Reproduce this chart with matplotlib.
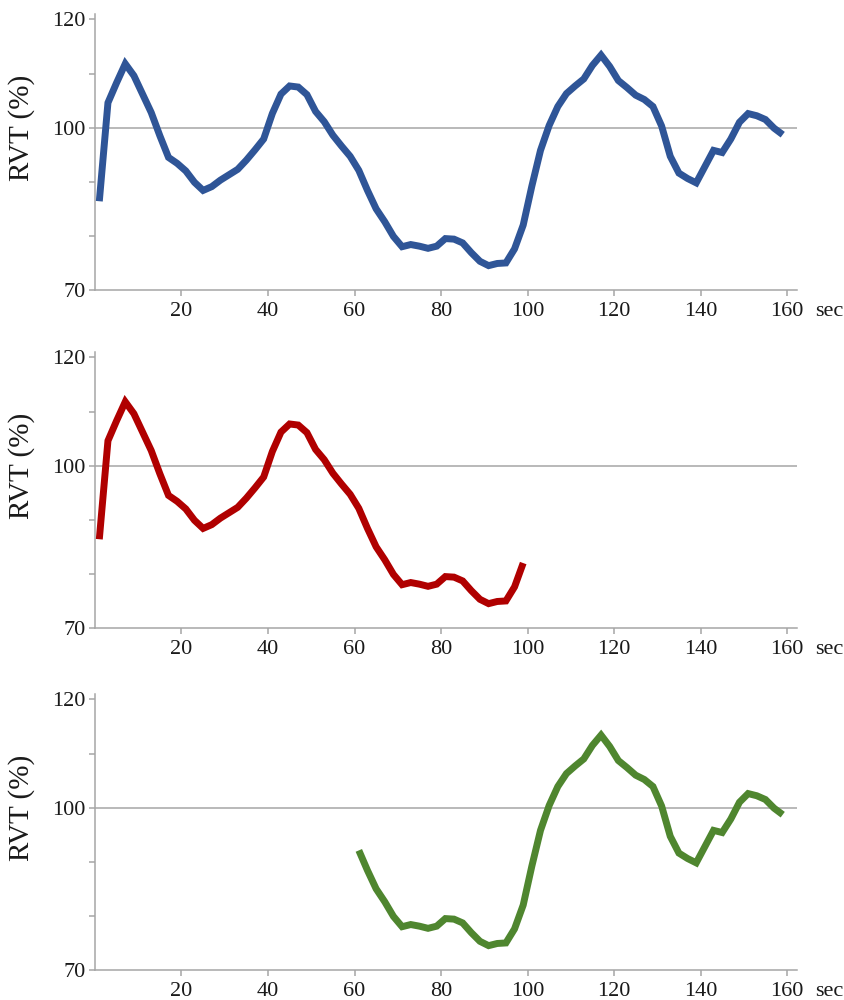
import numpy as np
import matplotlib
matplotlib.use("Agg")
import matplotlib.pyplot as plt
import matplotlib.transforms as mtransforms

# time (sec) and RVT (%), one sample every 2 sec
time_sec = np.arange(1, 160, 2)
rvt = [
    86.4, 104.6, 108.3, 111.8, 109.6, 106.2, 102.8, 98.5, 94.5, 93.4,
    92.0, 89.9, 88.4, 89.1, 90.3, 91.3, 92.3, 94.0, 95.9, 97.9,
    102.6, 106.2, 107.7, 107.5, 106.1, 103.0, 101.1, 98.6, 96.6, 94.7,
    92.1, 88.4, 85.0, 82.6, 79.9, 78.0, 78.4, 78.1, 77.7, 78.1,
    79.5, 79.4, 78.7, 76.9, 75.3, 74.5, 74.9, 75.0, 77.6, 82.0,
    89.2, 95.8, 100.4, 103.9, 106.3, 107.7, 109.0, 111.5, 113.4, 111.3,
    108.7, 107.4, 106.0, 105.2, 103.9, 100.3, 94.7, 91.6, 90.6, 89.8,
    92.8, 95.8, 95.4, 97.9, 101.0, 102.6, 102.2, 101.5, 99.9, 98.7,
]

# which part of the recording each panel shows (sec)
panel_ranges = [(0, 160), (0, 99), (61, 160)]
panel_colors = ["#2F5597", "#B00000", "#4F862F"]

x_ticks = [20, 40, 60, 80, 100, 120, 140, 160]
y_ticks = [70, 80, 90, 100, 110, 120]
y_tick_labels = ["70", "", "", "100", "", "120"]

plt.rcParams["font.family"] = ["Liberation Serif", "DejaVu Serif"]
axis_grey = "#A6A6A6"
text_col = "#1a1a1a"

fig = plt.figure(figsize=(8.45, 10), dpi=100)
bottoms = [0.710, 0.372, 0.030]

t = np.array(time_sec)
v = np.array(rvt)

for bottom, (t0, t1), color in zip(bottoms, panel_ranges, panel_colors):
    ax = fig.add_axes([0.1124, bottom, 0.8308, 0.276])
    mask = (t >= t0) & (t <= t1)
    ax.axhline(100, color=axis_grey, lw=1.1, zorder=1)
    ax.plot(t[mask], v[mask], color=color, lw=5, zorder=3,
            solid_joinstyle="miter", solid_capstyle="butt")

    ax.set_xlim(0, 162.3)
    ax.set_ylim(70, 121)
    ax.set_xticks(x_ticks)
    ax.set_yticks(y_ticks)
    ax.set_yticklabels(y_tick_labels)

    for side in ["top", "right"]:
        ax.spines[side].set_visible(False)
    for side in ["left", "bottom"]:
        ax.spines[side].set_color(axis_grey)
        ax.spines[side].set_linewidth(1.1)
    ax.tick_params(axis="both", direction="out", length=4, width=1.1,
                   color=axis_grey, labelsize=16, labelcolor=text_col)
    ax.tick_params(axis="x", pad=5)
    ax.tick_params(axis="y", pad=2.5)

    trans = mtransforms.blended_transform_factory(ax.transAxes, ax.transData)
    ax.text(-0.104, 100, "RVT (%)", transform=trans, rotation=90,
            ha="center", va="center", fontsize=21, color=text_col)
    ax.annotate("sec", xy=(1, 0), xycoords="axes fraction",
                xytext=(13, -9), textcoords="offset points",
                ha="left", va="top", fontsize=16, color=text_col)

fig.savefig("out.png", dpi=100)
